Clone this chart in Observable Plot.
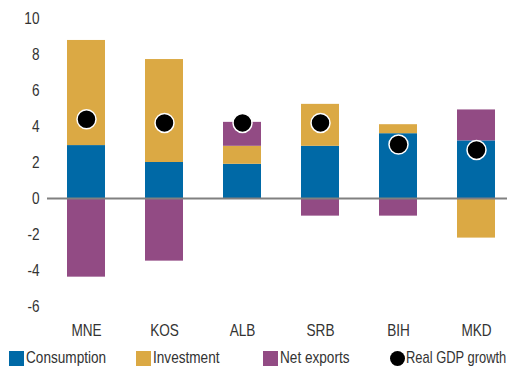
<!DOCTYPE html>
<html>
<head>
<meta charset="utf-8">
<script src="https://cdn.jsdelivr.net/npm/d3@7"></script>
<script src="https://cdn.jsdelivr.net/npm/@observablehq/plot@0.6"></script>
<style>
  html, body { margin: 0; padding: 0; background: #fff; }
  body { width: 507px; height: 366px; overflow: hidden; font-family: "Liberation Sans", Arial, sans-serif; color: #333; }
  #legend { display: flex; padding-left: 9px; height: 16px; margin-top: 5px; font-size: 17px; line-height: 16px; }
  .item { display: flex; align-items: center; flex: none; width: 127px; white-space: nowrap; }
  .sw { width: 15px; height: 15px; margin-right: 2px; flex: none; }
  .dot { width: 15px; height: 15px; border-radius: 50%; background: #000; margin-right: 1px; flex: none; }
  .lbl { display: inline-block; transform: scaleX(0.8); transform-origin: left center; }
  .item:last-child .lbl { transform: scaleX(0.76); }
</style>
</head>
<body>
<div id="chart"></div>
<div id="legend"></div>
<script>
// Contributions to real GDP growth (percentage points)
const countries = ["MNE", "KOS", "ALB", "SRB", "BIH", "MKD"];
const components = ["Consumption", "Investment", "Net exports"];
const consumption = [2.94, 2.0, 1.9, 2.9, 3.6, 3.2];
const investment = [5.84, 5.72, 1.0, 2.33, 0.5, -2.2];
const netExports = [-4.37, -3.48, 1.33, -0.98, -0.98, 1.72];
const gdpGrowth = [4.4, 4.2, 4.2, 4.2, 3.0, 2.7];
const yTicks = [-6, -4, -2, 0, 2, 4, 6, 8, 10];
const colors = ["#0069a6", "#dba944", "#924b84"];

const seriesValues = [consumption, investment, netExports];
const rows = [];
countries.forEach((c, i) => {
  components.forEach((k, j) => rows.push({country: c, component: k, value: seriesValues[j][i]}));
});
const growth = countries.map((c, i) => ({country: c, value: gdpGrowth[i]}));

const chart = Plot.plot({
  width: 507,
  height: 345,
  marginLeft: 47,
  marginRight: 0,
  marginTop: 18,
  marginBottom: 39,
  style: {fontFamily: "'Liberation Sans', Arial, sans-serif", fontSize: "17px", color: "#333", background: "#fff"},
  x: {domain: countries, range: [27, 535], padding: 0.51, label: null, tickSize: 0, tickPadding: 17},
  y: {domain: [-6, 10], ticks: yTicks, tickFormat: d => String(d), label: null, tickSize: 0, tickPadding: 8},
  color: {domain: components, range: colors},
  marks: [
    Plot.barY(rows, Plot.stackY({order: components}, {x: "country", y: "value", fill: "component"})),
    Plot.ruleY([0], {stroke: "#808080", strokeWidth: 2}),
    Plot.dot(growth, {x: "country", y: "value", r: 9.5, fill: "#000", stroke: "#fff", strokeWidth: 1.5})
  ]
});
document.getElementById("chart").appendChild(chart);

// Narrow the axis lettering: compress each label to 80% of its natural width
chart.querySelectorAll("text").forEach(t => {
  const w = t.getComputedTextLength();
  if (w > 0) {
    t.setAttribute("textLength", (w * 0.8).toFixed(2));
    t.setAttribute("lengthAdjust", "spacingAndGlyphs");
  }
});

// Legend row
const legend = document.getElementById("legend");
function addItem(marker, text) {
  const item = document.createElement("div");
  item.className = "item";
  item.appendChild(marker);
  const lbl = document.createElement("span");
  lbl.className = "lbl";
  lbl.textContent = text;
  item.appendChild(lbl);
  legend.appendChild(item);
}
components.forEach((k, j) => {
  const sw = document.createElement("span");
  sw.className = "sw";
  sw.style.background = colors[j];
  addItem(sw, k);
});
const dot = document.createElement("span");
dot.className = "dot";
addItem(dot, "Real GDP growth");
</script>
</body>
</html>
